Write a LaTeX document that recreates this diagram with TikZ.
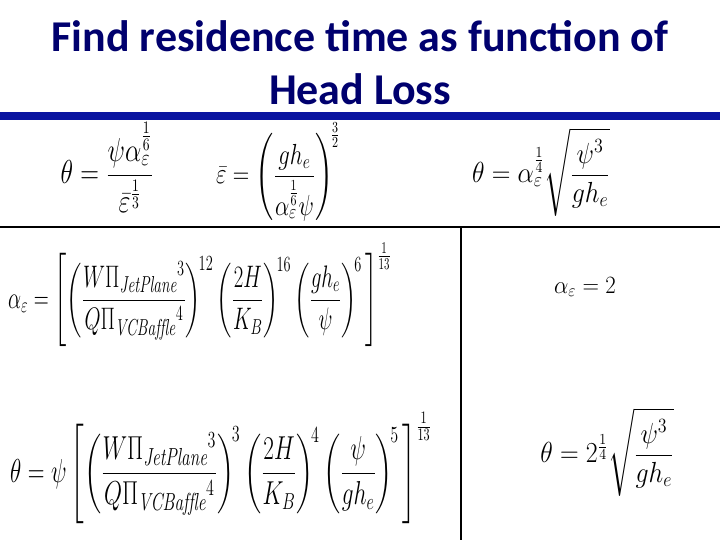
\documentclass[tikz,border=0pt]{standalone}
\usepackage{amsmath}
\usepackage{graphicx}
\usepackage{fontspec}
\newfontfamily\titlefont{Carlito}
\begin{document}
\begin{tikzpicture}[x=1pt,y=-1pt,
  eq/.style={inner sep=0pt,font=\fontsize{22}{26}\selectfont},
  rule/.style={line width=1.5pt,black}]
\useasboundingbox (0,0) rectangle (720,540);
\definecolor{navy}{RGB}{0,0,110}
\definecolor{barblue}{RGB}{10,20,160}
\node[font=\titlefont\bfseries\fontsize{44}{53}\selectfont,text=navy,align=center] (title) at (360,63) {Find residence time as function of\\Head Loss};
\fill[barblue] (0,112) rectangle (720,120);
\coordinate (hl) at (0,227); \coordinate (hr) at (720,227);
\coordinate (vt) at (461,227); \coordinate (vb) at (461,540);
\draw[rule] (hl) -- (hr);
\draw[rule] (vt) -- (vb);
\node[eq] (e1) at (107,167) {\scalebox{1.25}[1.6]{$\theta=\dfrac{\psi\alpha_\varepsilon^{\frac16}}{\bar\varepsilon^{\frac13}}$}};
\node[eq] (e2) at (278,172) {\scalebox{1.1}[1.4]{$\bar\varepsilon=\left(\dfrac{gh_e}{\alpha_\varepsilon^{\frac16}\psi}\right)^{\!\frac32}$}};
\node[eq] (e3) at (541,172) {\scalebox{1.25}[1.4]{$\theta=\alpha_\varepsilon^{\frac14}\sqrt{\dfrac{\psi^3}{gh_e}}$}};
\node[eq,anchor=west] (e4) at (8,295) {\scalebox{1.0}[1.5]{$\alpha_\varepsilon=\left[\left(\dfrac{W\Pi_{\mathit{JetPlane}}{}^{3}}{Q\Pi_{\mathit{VCBaffle}}{}^{4}}\right)^{\!12}\left(\dfrac{2H}{K_B}\right)^{\!16}\left(\dfrac{gh_e}{\psi}\right)^{\!6}\,\right]^{\frac1{13}}$}};
\node[eq] (e5) at (585,287) {\scalebox{1.1}[1.2]{$\alpha_\varepsilon=2$}};
\node[eq,anchor=west] (e6) at (10,468) {\scalebox{1.12}[1.6]{$\theta=\psi\left[\left(\dfrac{W\Pi_{\mathit{JetPlane}}{}^{3}}{Q\Pi_{\mathit{VCBaffle}}{}^{4}}\right)^{\!3}\left(\dfrac{2H}{K_B}\right)^{\!4}\left(\dfrac{\psi}{gh_e}\right)^{\!5}\,\right]^{\frac1{13}}$}};
\node[eq] (e7) at (607,452) {\scalebox{1.25}[1.4]{$\theta=2^{\frac14}\sqrt{\dfrac{\psi^3}{gh_e}}$}};
\end{tikzpicture}
\end{document}
